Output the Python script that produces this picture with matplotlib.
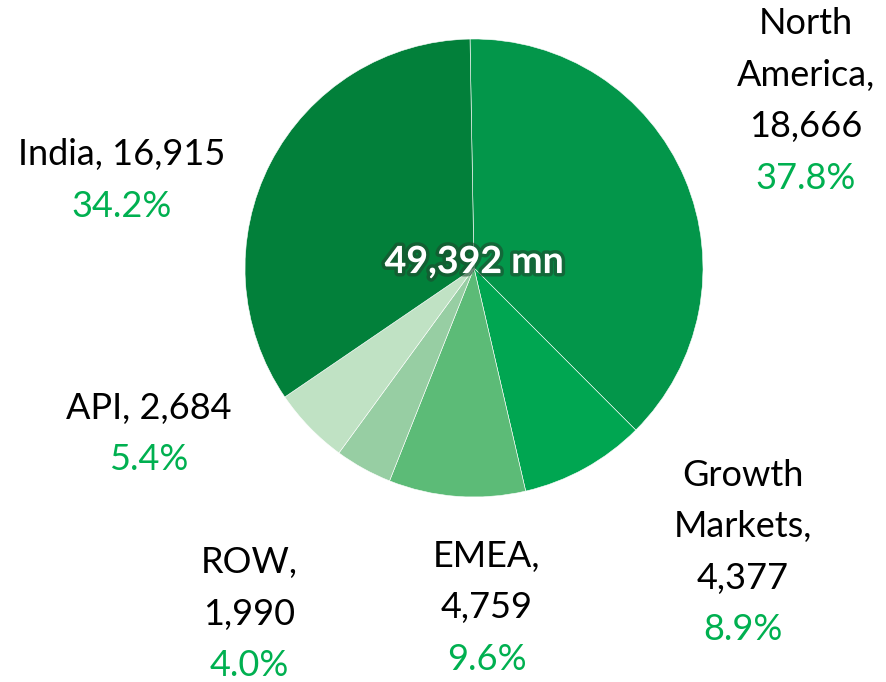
import matplotlib
matplotlib.use("Agg")
import matplotlib.pyplot as plt
import matplotlib.patheffects as pe

regions = ["North America", "Growth Markets", "EMEA", "ROW", "API", "India"]
values = [18666, 4377, 4759, 1990, 2684, 16915]
percents = ["37.8%", "8.9%", "9.6%", "4.0%", "5.4%", "34.2%"]
label_lines = [["North", "America,", "18,666"],
               ["Growth", "Markets,", "4,377"],
               ["EMEA,", "4,759"],
               ["ROW,", "1,990"],
               ["API, 2,684"],
               ["India, 16,915"]]
total_label = "49,392 mn"
colors = ["#03964A", "#00A651", "#5CBB77", "#97CEA3", "#C0E2C4", "#02803A"]

W, H = 887, 682
fig = plt.figure(figsize=(W / 100, H / 100), dpi=100)
plt.rcParams['font.family'] = ['Lato', 'DejaVu Sans']

cx, cy, r = 474, 268, 229
ax = fig.add_axes([(cx - r) / W, (H - cy - r) / H, 2 * r / W, 2 * r / H])
ax.pie(values, colors=colors, startangle=91, counterclock=False,
       wedgeprops=dict(edgecolor="white", linewidth=0.4))
ax.set_xlim(-1, 1)
ax.set_ylim(-1, 1)
ax.set_aspect("equal")
ax.axis("off")

# label block anchors (pixel x center, first line y center), line spacing in px
anchors = [(806, 24), (743, 475), (487, 556), (249, 563), (149, 408), (122, 155)]
spacing = 51.5
fs = 26
for lines, pct, (x, y0) in zip(label_lines, percents, anchors):
    for i, line in enumerate(lines):
        fig.text(x / W, 1 - (y0 + i * spacing) / H, line, ha="center", va="center",
                 fontsize=fs, color="black")
    fig.text(x / W, 1 - (y0 + len(lines) * spacing) / H, pct, ha="center", va="center",
             fontsize=fs, color="#00B050")

ax.text(0, 0.026, total_label, ha="center", va="center", fontsize=27, fontweight="bold",
        color="white",
        path_effects=[pe.withStroke(linewidth=5, foreground="#1d4a2e", alpha=0.6)])

fig.savefig("out.png", dpi=100)
